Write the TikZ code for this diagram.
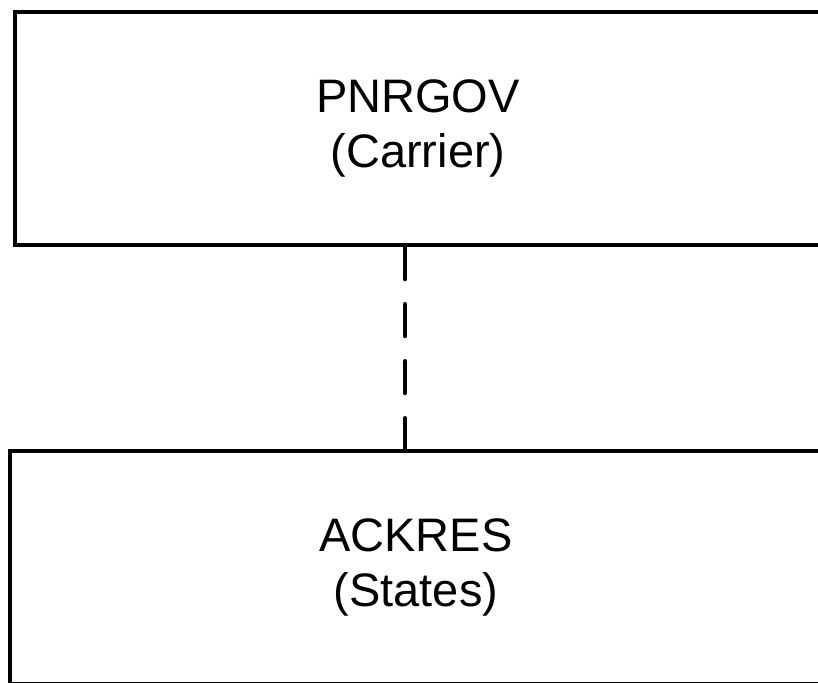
\documentclass[tikz,border=0pt]{standalone}
\usepackage{fontspec}
\setmainfont{Liberation Sans}
\begin{document}
\begin{tikzpicture}[x=0.5pt, y=-0.5pt]
\tikzset{ msgbox/.style={draw, line width=2.4pt, align=center, inner sep=0pt,
                        font=\fontsize{23.5}{27.5}\selectfont},
          msglink/.style={line width=2.4pt, line cap=round, dash pattern=on 15.75pt off 12.75pt} }

\useasboundingbox (0,0) rectangle (818,682);
\clip (0,0) rectangle (818,682);

%\draw [lightgray, dashed](0,0) grid (818,682);

\node [msgbox, minimum width=403pt, minimum height=116.5pt] (PNRGOV) at (418,128.5) {PNRGOV\\(Carrier)};
\node [msgbox, minimum width=406pt, minimum height=116.5pt] (ACKRES) at (416,567.5) {ACKRES\\(States)};

\coordinate (c) at (405,0);
\draw [msglink] (PNRGOV.south -| c) -- (ACKRES.north -| c);

\end{tikzpicture}
\end{document}
